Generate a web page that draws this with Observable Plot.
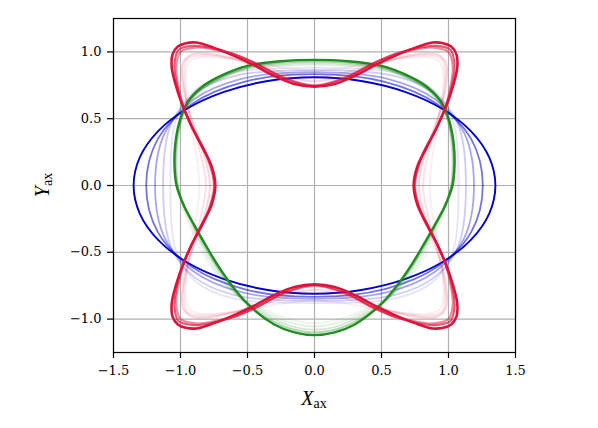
<!DOCTYPE html>
<html><head><meta charset="utf-8">
<script src="https://cdn.jsdelivr.net/npm/d3@7"></script>
<script src="https://cdn.jsdelivr.net/npm/@observablehq/plot@0.6"></script>
<style>body{margin:0;background:#fff}</style>
</head><body><div id="chart"></div>
<script>
const xTicks = [-1.5, -1.0, -0.5, 0, 0.5, 1.0, 1.5];
const yTicks = [-1.0, -0.5, 0, 0.5, 1.0];

// Blue family (final ellipse = blue1, earlier iterations fainter)
const blue1 = [[1.35,0],[1.304,0.21],[1.169,0.405],[0.955,0.573],[0.675,0.701],[0.349,0.782],[0,0.81],[-0.349,0.782],[-0.675,0.701],[-0.955,0.573],[-1.169,0.405],[-1.304,0.21],[-1.35,0],[-1.304,-0.21],[-1.169,-0.405],[-0.955,-0.573],[-0.675,-0.701],[-0.349,-0.782],[0,-0.81],[0.349,-0.782],[0.675,-0.701],[0.955,-0.573],[1.169,-0.405],[1.304,-0.21]];
const blue2 = [[1.256,0],[1.169,0.349],[0.917,0.609],[0.525,0.776],[0,0.834],[-0.525,0.776],[-0.917,0.609],[-1.169,0.349],[-1.256,0],[-1.169,-0.349],[-0.917,-0.609],[-0.525,-0.776],[0,-0.834],[0.525,-0.776],[0.917,-0.609],[1.169,-0.349]];
const blue3 = [[1.19,0],[1.117,0.394],[0.902,0.644],[0.552,0.797],[0,0.849],[-0.552,0.797],[-0.902,0.644],[-1.117,0.394],[-1.19,0],[-1.117,-0.394],[-0.902,-0.644],[-0.552,-0.797],[0,-0.849],[0.552,-0.797],[0.902,-0.644],[1.117,-0.394]];
const blue4 = [[1.13,0],[1.072,0.455],[0.897,0.686],[0.596,0.82],[0,0.864],[-0.596,0.82],[-0.897,0.686],[-1.072,0.455],[-1.13,0],[-1.072,-0.455],[-0.897,-0.686],[-0.596,-0.82],[0,-0.864],[0.596,-0.82],[0.897,-0.686],[1.072,-0.455]];
const blue5 = [[1.075,0],[1.028,0.509],[0.882,0.722],[0.621,0.841],[0,0.88],[-0.621,0.841],[-0.882,0.722],[-1.028,0.509],[-1.075,0],[-1.028,-0.509],[-0.882,-0.722],[-0.621,-0.841],[0,-0.88],[0.621,-0.841],[0.882,-0.722],[1.028,-0.509]];

// Green family (egg shape)
const green1 = [[0,0.94],[0.25,0.93],[0.5,0.895],[0.7,0.82],[0.85,0.73],[0.95,0.62],[1.01,0.47],[1.04,0.3],[1.045,0.15],[1.03,0],[0.975,-0.15],[0.895,-0.3],[0.81,-0.45],[0.72,-0.6],[0.615,-0.75],[0.485,-0.9],[0.3,-1.04],[0.15,-1.1],[0,-1.12],
  [-0.15,-1.1],[-0.3,-1.04],[-0.485,-0.9],[-0.615,-0.75],[-0.72,-0.6],[-0.81,-0.45],[-0.895,-0.3],[-0.975,-0.15],[-1.03,0],[-1.045,0.15],[-1.04,0.3],[-1.01,0.47],[-0.95,0.62],[-0.85,0.73],[-0.7,0.82],[-0.5,0.895],[-0.25,0.93]];
const green2 = [[0,0.93],[0.25,0.92],[0.5,0.885],[0.7,0.81],[0.85,0.72],[0.95,0.61],[1.005,0.47],[1.035,0.3],[1.04,0.12],[1.025,0],[0.975,-0.15],[0.9,-0.3],[0.82,-0.45],[0.73,-0.6],[0.625,-0.75],[0.49,-0.9],[0.3,-1.02],[0.15,-1.08],[0,-1.1],
  [-0.15,-1.08],[-0.3,-1.02],[-0.49,-0.9],[-0.625,-0.75],[-0.73,-0.6],[-0.82,-0.45],[-0.9,-0.3],[-0.975,-0.15],[-1.025,0],[-1.04,0.12],[-1.035,0.3],[-1.005,0.47],[-0.95,0.61],[-0.85,0.72],[-0.7,0.81],[-0.5,0.885],[-0.25,0.92]];
const green3 = [[0,0.92],[0.25,0.91],[0.5,0.88],[0.7,0.805],[0.85,0.715],[0.95,0.605],[1.0,0.47],[1.03,0.3],[1.035,0.12],[1.02,0],[0.975,-0.15],[0.905,-0.3],[0.83,-0.45],[0.74,-0.6],[0.635,-0.75],[0.5,-0.885],[0.3,-1.0],[0.15,-1.06],[0,-1.08],
  [-0.15,-1.06],[-0.3,-1.0],[-0.5,-0.885],[-0.635,-0.75],[-0.74,-0.6],[-0.83,-0.45],[-0.905,-0.3],[-0.975,-0.15],[-1.02,0],[-1.035,0.12],[-1.03,0.3],[-1.0,0.47],[-0.95,0.605],[-0.85,0.715],[-0.7,0.805],[-0.5,0.88],[-0.25,0.91]];
const green4 = [[0,0.91],[0.25,0.9],[0.5,0.875],[0.7,0.8],[0.85,0.71],[0.95,0.6],[1.0,0.47],[1.025,0.3],[1.03,0.12],[1.02,0],[0.98,-0.15],[0.915,-0.3],[0.845,-0.45],[0.76,-0.6],[0.65,-0.75],[0.51,-0.87],[0.3,-0.98],[0.15,-1.035],[0,-1.055],
  [-0.15,-1.035],[-0.3,-0.98],[-0.51,-0.87],[-0.65,-0.75],[-0.76,-0.6],[-0.845,-0.45],[-0.915,-0.3],[-0.98,-0.15],[-1.02,0],[-1.03,0.12],[-1.025,0.3],[-1.0,0.47],[-0.95,0.6],[-0.85,0.71],[-0.7,0.8],[-0.5,0.875],[-0.25,0.9]];
const green5 = [[0,0.9],[0.25,0.895],[0.5,0.87],[0.7,0.8],[0.85,0.71],[0.95,0.6],[0.995,0.47],[1.02,0.3],[1.025,0.12],[1.02,0],[0.99,-0.15],[0.93,-0.3],[0.865,-0.45],[0.78,-0.6],[0.67,-0.74],[0.52,-0.86],[0.3,-0.96],[0.15,-1.01],[0,-1.03],
  [-0.15,-1.01],[-0.3,-0.96],[-0.52,-0.86],[-0.67,-0.74],[-0.78,-0.6],[-0.865,-0.45],[-0.93,-0.3],[-0.99,-0.15],[-1.02,0],[-1.025,0.12],[-1.02,0.3],[-0.995,0.47],[-0.95,0.6],[-0.85,0.71],[-0.7,0.8],[-0.5,0.87],[-0.25,0.895]];

// Red family (four-lobed shape)
const red1 = [[0.74,0],[0.77,0.15],[0.845,0.3],[0.92,0.45],[0.985,0.6],[1.035,0.75],[1.065,0.88],[1.06,0.98],[1.02,1.04],[0.96,1.065],[0.88,1.07],[0.75,1.03],[0.6,0.97],[0.45,0.9],[0.3,0.82],[0.15,0.76],[0,0.74],
  [-0.15,0.76],[-0.3,0.82],[-0.45,0.9],[-0.6,0.97],[-0.75,1.03],[-0.88,1.07],[-0.96,1.065],[-1.02,1.04],[-1.06,0.98],[-1.065,0.88],[-1.035,0.75],[-0.985,0.6],[-0.92,0.45],[-0.845,0.3],[-0.77,0.15],[-0.74,0],
  [-0.77,-0.15],[-0.845,-0.3],[-0.92,-0.45],[-0.985,-0.6],[-1.035,-0.75],[-1.065,-0.88],[-1.06,-0.98],[-1.02,-1.04],[-0.96,-1.065],[-0.88,-1.07],[-0.75,-1.03],[-0.6,-0.97],[-0.45,-0.9],[-0.3,-0.82],[-0.15,-0.76],[0,-0.74],
  [0.15,-0.76],[0.3,-0.82],[0.45,-0.9],[0.6,-0.97],[0.75,-1.03],[0.88,-1.07],[0.96,-1.065],[1.02,-1.04],[1.06,-0.98],[1.065,-0.88],[1.035,-0.75],[0.985,-0.6],[0.92,-0.45],[0.845,-0.3],[0.77,-0.15]];
const red2 = [[0.745,0],[0.8,0.22],[0.92,0.45],[0.985,0.6],[1.03,0.77],[1.045,0.9],[1.015,1.015],[0.9,1.045],[0.77,1.03],[0.6,0.985],[0.45,0.92],[0.22,0.8],[0,0.745],
  [-0.22,0.8],[-0.45,0.92],[-0.6,0.985],[-0.77,1.03],[-0.9,1.045],[-1.015,1.015],[-1.045,0.9],[-1.03,0.77],[-0.985,0.6],[-0.92,0.45],[-0.8,0.22],[-0.745,0],
  [-0.8,-0.22],[-0.92,-0.45],[-0.985,-0.6],[-1.03,-0.77],[-1.045,-0.9],[-1.015,-1.015],[-0.9,-1.045],[-0.77,-1.03],[-0.6,-0.985],[-0.45,-0.92],[-0.22,-0.8],[0,-0.745],
  [0.22,-0.8],[0.45,-0.92],[0.6,-0.985],[0.77,-1.03],[0.9,-1.045],[1.015,-1.015],[1.045,-0.9],[1.03,-0.77],[0.985,-0.6],[0.92,-0.45],[0.8,-0.22]];
const red3 = [[0.75,0],[0.805,0.22],[0.92,0.45],[0.98,0.6],[1.02,0.77],[1.032,0.89],[1.0,1.0],[0.89,1.032],[0.77,1.02],[0.6,0.98],[0.45,0.92],[0.22,0.805],[0,0.75],
  [-0.22,0.805],[-0.45,0.92],[-0.6,0.98],[-0.77,1.02],[-0.89,1.032],[-1.0,1.0],[-1.032,0.89],[-1.02,0.77],[-0.98,0.6],[-0.92,0.45],[-0.805,0.22],[-0.75,0],
  [-0.805,-0.22],[-0.92,-0.45],[-0.98,-0.6],[-1.02,-0.77],[-1.032,-0.89],[-1.0,-1.0],[-0.89,-1.032],[-0.77,-1.02],[-0.6,-0.98],[-0.45,-0.92],[-0.22,-0.805],[0,-0.75],
  [0.22,-0.805],[0.45,-0.92],[0.6,-0.98],[0.77,-1.02],[0.89,-1.032],[1.0,-1.0],[1.032,-0.89],[1.02,-0.77],[0.98,-0.6],[0.92,-0.45],[0.805,-0.22]];
const red4 = [[0.78,0],[0.82,0.22],[0.9,0.45],[0.955,0.62],[0.985,0.78],[0.98,0.92],[0.92,0.98],[0.78,0.985],[0.62,0.955],[0.45,0.9],[0.22,0.82],[0,0.78],
  [-0.22,0.82],[-0.45,0.9],[-0.62,0.955],[-0.78,0.985],[-0.92,0.98],[-0.98,0.92],[-0.985,0.78],[-0.955,0.62],[-0.9,0.45],[-0.82,0.22],[-0.78,0],
  [-0.82,-0.22],[-0.9,-0.45],[-0.955,-0.62],[-0.985,-0.78],[-0.98,-0.92],[-0.92,-0.98],[-0.78,-0.985],[-0.62,-0.955],[-0.45,-0.9],[-0.22,-0.82],[0,-0.78],
  [0.22,-0.82],[0.45,-0.9],[0.62,-0.955],[0.78,-0.985],[0.92,-0.98],[0.98,-0.92],[0.985,-0.78],[0.955,-0.62],[0.9,-0.45],[0.82,-0.22]];
const red5 = [[0.81,0],[0.845,0.22],[0.91,0.45],[0.955,0.65],[0.975,0.8],[0.96,0.93],[0.93,0.96],[0.8,0.975],[0.65,0.955],[0.45,0.91],[0.22,0.845],[0,0.81],
  [-0.22,0.845],[-0.45,0.91],[-0.65,0.955],[-0.8,0.975],[-0.93,0.96],[-0.96,0.93],[-0.975,0.8],[-0.955,0.65],[-0.91,0.45],[-0.845,0.22],[-0.81,0],
  [-0.845,-0.22],[-0.91,-0.45],[-0.955,-0.65],[-0.975,-0.8],[-0.96,-0.93],[-0.93,-0.96],[-0.8,-0.975],[-0.65,-0.955],[-0.45,-0.91],[-0.22,-0.845],[0,-0.81],
  [0.22,-0.845],[0.45,-0.91],[0.65,-0.955],[0.8,-0.975],[0.93,-0.96],[0.96,-0.93],[0.975,-0.8],[0.955,-0.65],[0.91,-0.45],[0.845,-0.22]];
const red6 = [[0.86,0],[0.88,0.22],[0.925,0.45],[0.955,0.68],[0.96,0.85],[0.93,0.93],[0.85,0.96],[0.68,0.955],[0.45,0.925],[0.22,0.88],[0,0.86],
  [-0.22,0.88],[-0.45,0.925],[-0.68,0.955],[-0.85,0.96],[-0.93,0.93],[-0.96,0.85],[-0.955,0.68],[-0.925,0.45],[-0.88,0.22],[-0.86,0],
  [-0.88,-0.22],[-0.925,-0.45],[-0.955,-0.68],[-0.96,-0.85],[-0.93,-0.93],[-0.85,-0.96],[-0.68,-0.955],[-0.45,-0.925],[-0.22,-0.88],[0,-0.86],
  [0.22,-0.88],[0.45,-0.925],[0.68,-0.955],[0.85,-0.96],[0.93,-0.93],[0.96,-0.85],[0.955,-0.68],[0.925,-0.45],[0.88,-0.22]];

// Styling (kept separate from data)
const families = [
  {curves: [blue5, blue4, blue3, blue2, blue1], color: "#0000cd", alpha: [0.1, 0.2, 0.35, 0.55, 1], width: [1.8, 1.8, 1.8, 1.8, 1.9]},
  {curves: [green5, green4, green3, green2, green1], color: "#228b22", alpha: [0.08, 0.12, 0.2, 0.35, 1], width: [2, 2, 2, 2, 2.4]},
  {curves: [red6, red5, red4, red3, red2, red1], color: "#dc143c", alpha: [0.08, 0.12, 0.18, 0.5, 0.7, 1], width: [2, 2, 2, 2.1, 2.1, 2.6]}
];

const marks = [
  Plot.gridX(xTicks, {stroke: "#b0b0b0", strokeOpacity: 1, strokeWidth: 1.2}),
  Plot.gridY(yTicks, {stroke: "#b0b0b0", strokeOpacity: 1, strokeWidth: 1.2})
];
for (const f of families) {
  f.curves.forEach((c, i) => {
    marks.push(Plot.line(c, {x: d => d[0], y: d => d[1], curve: "catmull-rom-closed",
      stroke: f.color, strokeOpacity: f.alpha[i], strokeWidth: f.width[i]}));
  });
}
marks.push(Plot.frame({stroke: "#000", strokeWidth: 1.2}));
marks.push(Plot.axisX(xTicks, {tickSize: 6, tickPadding: 7, tickFormat: d3.format(".1f"), label: null, strokeWidth: 1.2}));
marks.push(Plot.axisY(yTicks, {tickSize: 6, tickPadding: 6, tickFormat: d3.format(".1f"), label: null, strokeWidth: 1.2}));

const chart = Plot.plot({
  width: 598, height: 428,
  marginLeft: 113, marginRight: 83, marginTop: 18, marginBottom: 76,
  x: {domain: [-1.5, 1.5]},
  y: {domain: [-1.25, 1.25]},
  style: {fontFamily: "DejaVu Serif", fontSize: "13px", color: "#000", background: "#fff"},
  marks
});
document.getElementById("chart").appendChild(chart);

const svg = d3.select(chart);
const xs = chart.scale("x"), ys = chart.scale("y");
const xl = svg.append("text")
  .attr("x", xs.apply(0)).attr("y", 405)
  .attr("text-anchor", "middle").attr("font-family", "Liberation Serif").attr("font-size", 20).attr("fill", "#000");
xl.append("tspan").attr("font-style", "italic").text("X");
xl.append("tspan").attr("font-size", 14).attr("dy", 3).text("ax");
const yl = svg.append("text")
  .attr("transform", `translate(49,${ys.apply(0)}) rotate(-90)`)
  .attr("text-anchor", "middle").attr("font-family", "Liberation Serif").attr("font-size", 20).attr("fill", "#000");
yl.append("tspan").attr("font-style", "italic").text("Y");
yl.append("tspan").attr("font-size", 14).attr("dy", 3).text("ax");
</script>
</body></html>
